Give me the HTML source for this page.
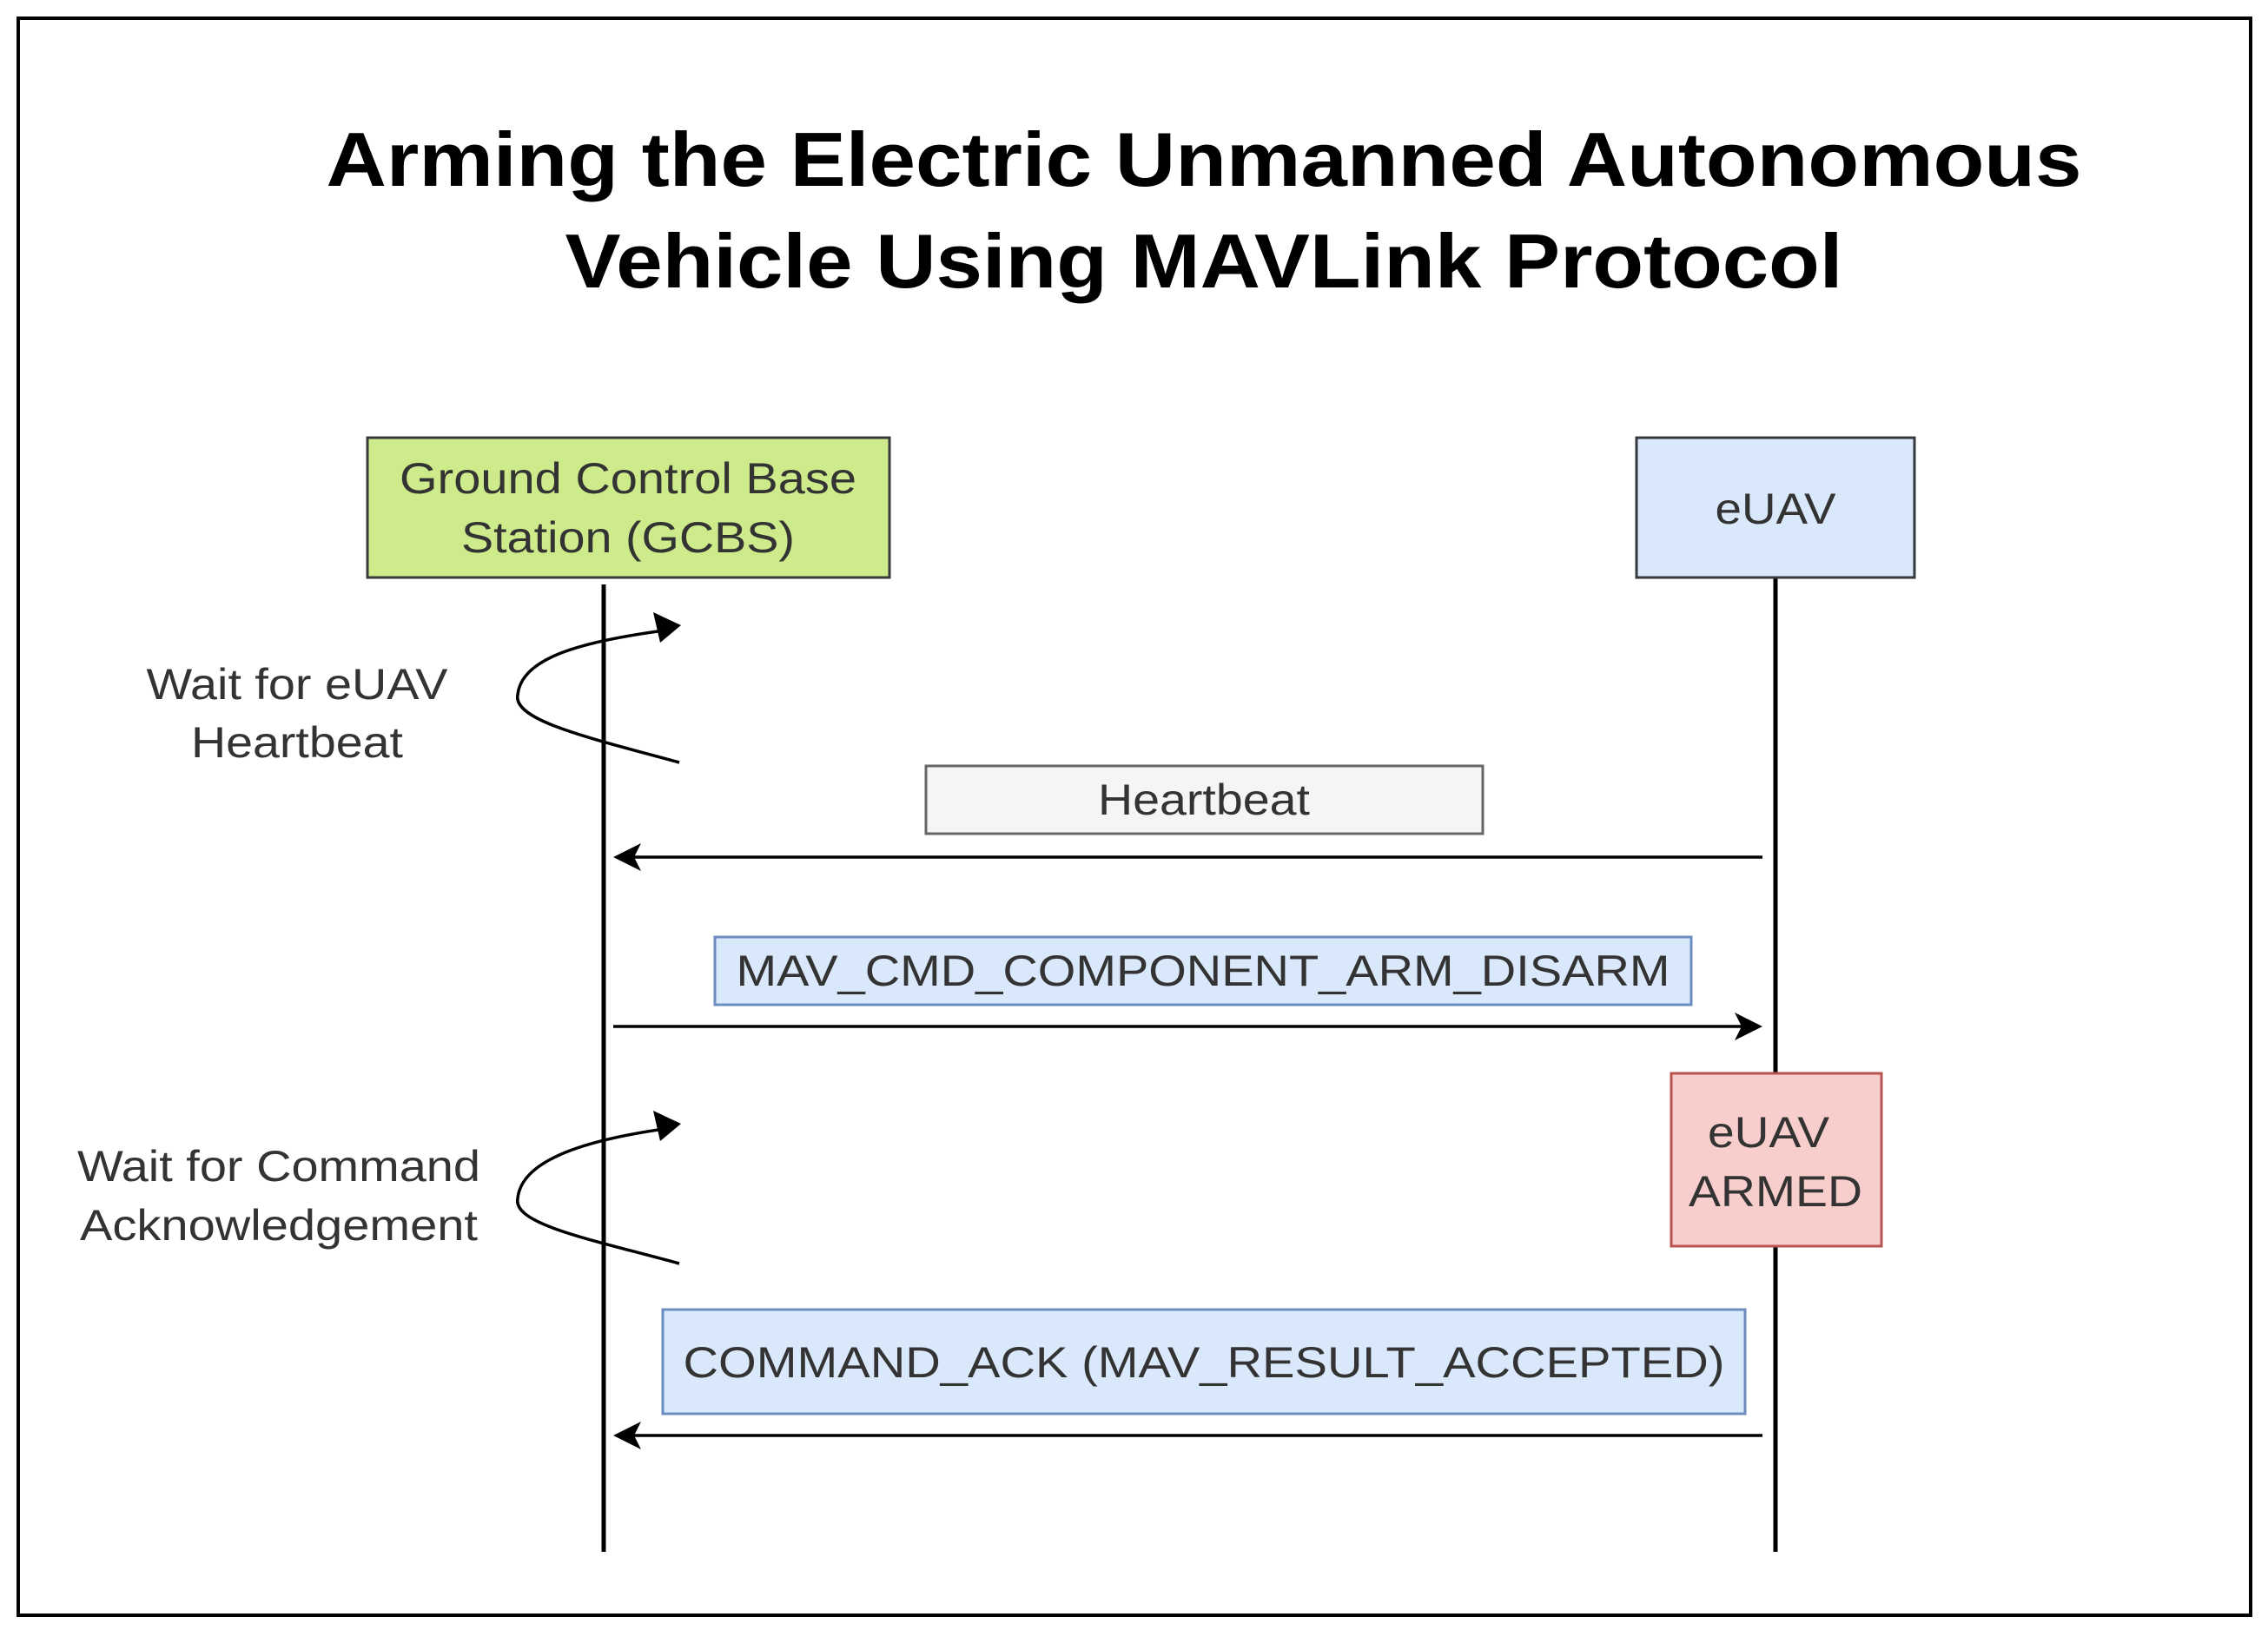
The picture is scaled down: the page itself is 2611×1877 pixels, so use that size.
<!DOCTYPE html>
<html><head><meta charset="utf-8"><style>html,body{margin:0;padding:0;background:#fff}svg{display:block}</style></head>
<body>
<svg width="2611" height="1877" viewBox="0 0 2611 1877" xmlns="http://www.w3.org/2000/svg" font-family="Liberation Sans, Arial, sans-serif">
<rect x="0" y="0" width="2611" height="1877" fill="#fff"/>
<rect x="21" y="21" width="2570" height="1839" fill="none" stroke="#000" stroke-width="4"/>
<g font-weight="bold" font-size="88" fill="#000" text-anchor="middle">
<text x="1386" y="214" textLength="2021" lengthAdjust="spacingAndGlyphs">Arming the Electric Unmanned Autonomous</text>
<text x="1386" y="331" textLength="1471" lengthAdjust="spacingAndGlyphs">Vehicle Using MAVLink Protocol</text>
</g>
<!-- lifelines -->
<line x1="695" y1="673" x2="695" y2="1787" stroke="#000" stroke-width="5"/>
<line x1="2044" y1="665" x2="2044" y2="1787" stroke="#000" stroke-width="5"/>
<!-- actors -->
<rect x="423" y="504" width="601" height="161" fill="#cdeb8b" stroke="#36393d" stroke-width="3"/>
<rect x="1884" y="504" width="320" height="161" fill="#dae8fc" stroke="#36393d" stroke-width="3"/>
<g font-size="50" fill="#333" text-anchor="middle">
<text x="723" y="568" textLength="526" lengthAdjust="spacingAndGlyphs">Ground Control Base</text>
<text x="723" y="636" textLength="384" lengthAdjust="spacingAndGlyphs">Station (GCBS)</text>
<text x="2044" y="603" textLength="139" lengthAdjust="spacingAndGlyphs">eUAV</text>
</g>
<!-- loops -->
<g fill="none" stroke="#000" stroke-width="3.5">
<path d="M782,878 C680,850 590,830 596,800 C600,760 660,740 765,726"/>
<path d="M782,1455 C680,1427 590,1410 596,1380 C600,1340 660,1315 765,1300"/>
</g>
<polygon points="784,720 752,705 760,740" fill="#000"/>
<polygon points="784,1294 752,1279 760,1314" fill="#000"/>
<g font-size="50" fill="#333" text-anchor="middle">
<text x="342" y="805" textLength="347" lengthAdjust="spacingAndGlyphs">Wait for eUAV</text>
<text x="342" y="872" textLength="244" lengthAdjust="spacingAndGlyphs">Heartbeat</text>
<text x="321" y="1360" textLength="464" lengthAdjust="spacingAndGlyphs">Wait for Command</text>
<text x="321" y="1428" textLength="458" lengthAdjust="spacingAndGlyphs">Acknowledgement</text>
</g>
<!-- messages -->
<rect x="1066" y="882" width="641" height="78" fill="#f5f5f5" stroke="#666" stroke-width="3"/>
<rect x="823" y="1079" width="1124" height="78" fill="#dae8fc" stroke="#6c8ebf" stroke-width="3"/>
<rect x="1924" y="1236" width="242" height="199" fill="#f8cecc" stroke="#b85450" stroke-width="3"/>
<rect x="763" y="1508" width="1246" height="120" fill="#dae8fc" stroke="#6c8ebf" stroke-width="3"/>
<g font-size="50" fill="#333" text-anchor="middle">
<text x="1386" y="938" textLength="244" lengthAdjust="spacingAndGlyphs">Heartbeat</text>
<text x="1385" y="1135" textLength="1075" lengthAdjust="spacingAndGlyphs">MAV_CMD_COMPONENT_ARM_DISARM</text>
<text x="2036" y="1321" textLength="140" lengthAdjust="spacingAndGlyphs">eUAV</text>
<text x="2044" y="1389" textLength="200" lengthAdjust="spacingAndGlyphs">ARMED</text>
<text x="1386" y="1586" textLength="1199" lengthAdjust="spacingAndGlyphs">COMMAND_ACK (MAV_RESULT_ACCEPTED)</text>
</g>
<g stroke="#000" stroke-width="3.5">
<line x1="2029" y1="987" x2="720" y2="987"/>
<line x1="706" y1="1182" x2="2012" y2="1182"/>
<line x1="2029" y1="1653" x2="720" y2="1653"/>
</g>
<polygon points="706,987 738,971 730,987 738,1003" fill="#000"/>
<polygon points="2029,1182 1997,1166 2005,1182 1997,1198" fill="#000"/>
<polygon points="706,1653 738,1637 730,1653 738,1669" fill="#000"/>
</svg>
</body></html>
